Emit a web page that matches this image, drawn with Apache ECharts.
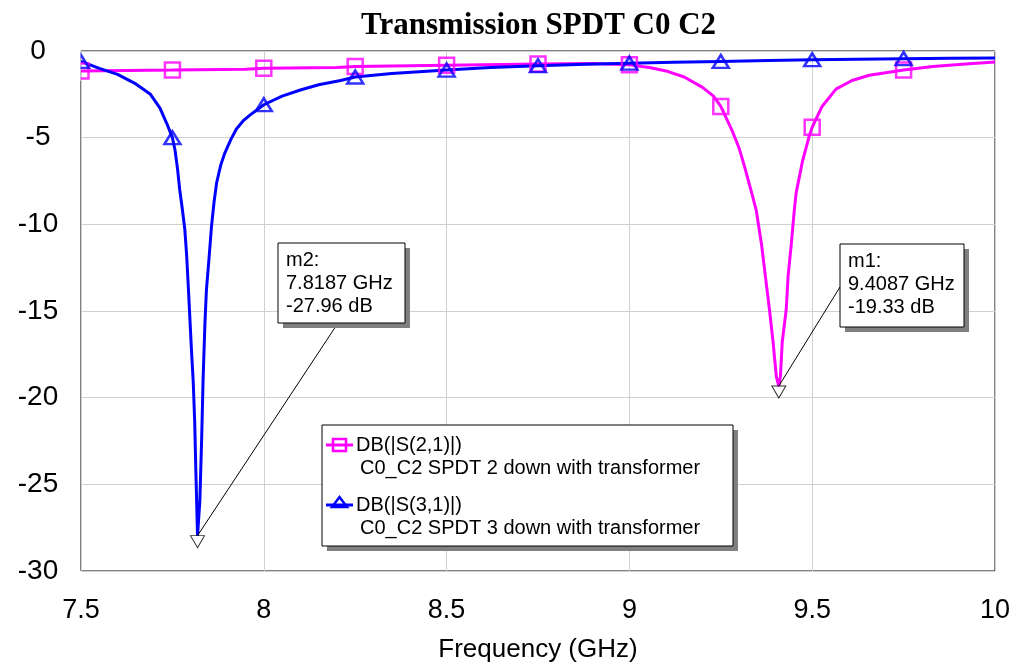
<!DOCTYPE html>
<html>
<head>
<meta charset="utf-8">
<script src="https://cdn.jsdelivr.net/npm/echarts@6/dist/echarts.min.js"></script>
<style>
  html, body { margin: 0; padding: 0; background: #ffffff; }
  #chart { width: 1014px; height: 668px; }
</style>
</head>
<body>
<div id="chart"></div>
<script>
// DB(|S(2,1)|) : C0_C2 SPDT 2 down with transformer
const freqS21 = [7.50, 7.75, 7.95, 8.00, 8.20, 8.25, 8.50, 8.75, 8.90, 9.00, 9.055, 9.10, 9.15, 9.20, 9.23,
  9.25, 9.281, 9.30, 9.314, 9.336, 9.347, 9.361, 9.372, 9.383, 9.393, 9.402, 9.4087, 9.413, 9.418, 9.429,
  9.434, 9.443, 9.451, 9.456, 9.473, 9.492, 9.50, 9.527, 9.565, 9.609, 9.656, 9.75, 9.83, 9.92, 10.0];
const dbS21 = [-1.15, -1.1, -1.05, -1.0, -0.95, -0.9, -0.82, -0.75, -0.72, -0.8, -0.95, -1.15, -1.5, -2.1, -2.6,
  -3.2, -4.6, -5.6, -6.6, -8.3, -9.2, -11.1, -13.0, -14.9, -16.8, -18.8, -19.33, -18.8, -16.8, -14.9,
  -13.0, -11.1, -9.2, -8.2, -6.4, -4.9, -4.4, -3.2, -2.2, -1.7, -1.4, -1.1, -0.9, -0.75, -0.63];

// DB(|S(3,1)|) : C0_C2 SPDT 3 down with transformer
const freqS31 = [7.50, 7.55, 7.60, 7.65, 7.69, 7.716, 7.735, 7.75, 7.757, 7.764, 7.770, 7.777, 7.784, 7.789,
  7.793, 7.798, 7.802, 7.807, 7.811, 7.814, 7.8187, 7.825, 7.830, 7.834, 7.839, 7.843, 7.850, 7.857, 7.864,
  7.871, 7.882, 7.893, 7.91, 7.925, 7.945, 7.962, 8.00, 8.05, 8.10, 8.15, 8.21, 8.25, 8.35, 8.50, 8.62, 8.75,
  8.88, 9.00, 9.12, 9.25, 9.38, 9.50, 9.62, 9.75, 9.88, 10.0];
const dbS31 = [-0.6, -1.0, -1.35, -1.9, -2.5, -3.3, -4.2, -5.0, -5.7, -6.8, -8.0, -9.1, -10.3, -11.8,
  -13.4, -15.5, -17.2, -19.1, -21.4, -24.1, -27.96, -26.0, -22.4, -18.9, -15.7, -13.8, -12.0, -10.1, -8.7,
  -7.6, -6.6, -5.9, -5.1, -4.5, -4.0, -3.7, -3.1, -2.6, -2.25, -1.95, -1.7, -1.5, -1.3, -1.1, -0.95, -0.85,
  -0.77, -0.7, -0.65, -0.6, -0.55, -0.5, -0.47, -0.44, -0.42, -0.4];

// frequencies carrying a trace symbol
const symbolFreqs = [7.5, 7.75, 8.0, 8.25, 8.5, 8.75, 9.0, 9.25, 9.5, 9.75];

// axis ranges / ticks
const xTickValues = [7.5, 8, 8.5, 9, 9.5, 10];
const yTickValues = [-30, -25, -20, -15, -10, -5, 0];

// trace markers
const markerM1 = { name: 'm1', freq: 9.4087, db: -19.33 };
const markerM2 = { name: 'm2', freq: 7.8187, db: -27.96 };

const legendEntries = [
  { title: 'DB(|S(2,1)|)', desc: 'C0_C2 SPDT 2 down with transformer' },
  { title: 'DB(|S(3,1)|)', desc: 'C0_C2 SPDT 3 down with transformer' }
];

const MAGENTA = '#ff00ff';
const BLUE = '#0000ff';
const FONT = '"Liberation Sans", Arial, sans-serif';
const GRID = { left: 81, right: 19, top: 51, bottom: 97 };

function pairs(fs, ds) { return fs.map((f, i) => [f, ds[i]]); }
function pick(fs, ds, keep) {
  return pairs(fs, ds).filter(p => keep.indexOf(p[0]) >= 0);
}

const s21 = pairs(freqS21, dbS21);
const s31 = pairs(freqS31, dbS31);

const chart = echarts.init(document.getElementById('chart'), null, { renderer: 'canvas' });

const option = {
  backgroundColor: '#ffffff',
  animation: false,
  title: {
    text: 'Transmission SPDT C0 C2',
    left: 356,
    top: 5,
    textStyle: { fontFamily: '"Liberation Serif", "Times New Roman", serif', fontWeight: 'bold', fontSize: 31, color: '#000' }
  },
  grid: {
    left: GRID.left, right: GRID.right, top: GRID.top, bottom: GRID.bottom,
    containLabel: false, outerBoundsMode: 'none',
    show: true, borderColor: '#000', borderWidth: 1, backgroundColor: 'transparent'
  },
  xAxis: {
    type: 'value', min: xTickValues[0], max: xTickValues[xTickValues.length - 1], interval: 0.5,
    name: 'Frequency (GHz)', nameLocation: 'middle', nameGap: 66,
    nameTextStyle: { fontFamily: FONT, fontSize: 26, color: '#000' },
    axisLine: { show: false }, axisTick: { show: false },
    axisLabel: { fontFamily: FONT, fontSize: 27, color: '#000', margin: 26 },
    splitLine: { show: true, lineStyle: { color: '#d0d0d0', width: 1 } }
  },
  yAxis: {
    type: 'value', min: yTickValues[0], max: yTickValues[yTickValues.length - 1], interval: 5,
    axisLine: { show: false }, axisTick: { show: false },
    axisLabel: { fontFamily: FONT, fontSize: 28, color: '#000', margin: 43, align: 'center' },
    splitLine: { show: true, lineStyle: { color: '#d0d0d0', width: 1 } }
  },
  series: [
    { name: legendEntries[0].title, type: 'line', data: s21, showSymbol: false, smooth: false,
      lineStyle: { color: MAGENTA, width: 3 }, itemStyle: { color: MAGENTA }, z: 3 },
    { name: legendEntries[1].title, type: 'line', data: s31, showSymbol: false, smooth: false,
      lineStyle: { color: BLUE, width: 3 }, itemStyle: { color: BLUE }, z: 4 },
    { type: 'scatter', data: pick(freqS21, dbS21, symbolFreqs), symbol: 'rect', symbolSize: 15,
      itemStyle: { color: 'rgba(0,0,0,0)', borderColor: MAGENTA, borderWidth: 2.5 }, z: 5 },
    { type: 'scatter', data: pick(freqS31, dbS31, symbolFreqs), symbol: 'triangle', symbolSize: [16, 13],
      itemStyle: { color: 'rgba(0,0,0,0)', borderColor: BLUE, borderWidth: 2.5 }, z: 6 },
    { type: 'scatter', data: [[markerM1.freq, markerM1.db], [markerM2.freq, markerM2.db]],
      symbol: 'triangle', symbolRotate: 180, symbolSize: [14, 12], symbolOffset: [0, 6],
      itemStyle: { color: 'rgba(0,0,0,0)', borderColor: '#000', borderWidth: 1 }, z: 7 }
  ]
};

chart.setOption(option);

// marker readout boxes with leader lines
function markerBox(m, box, anchor) {
  const p = chart.convertToPixel({ gridIndex: 0 }, [m.freq, m.db]);
  return [
    { type: 'line', shape: { x1: p[0], y1: p[1], x2: anchor[0], y2: anchor[1] },
      style: { stroke: '#000', lineWidth: 1 }, z: 20 },
    { type: 'rect', shape: { x: box.x + 5, y: box.y + 5, width: box.w, height: box.h },
      style: { fill: '#808080' }, z: 21 },
    { type: 'rect', shape: { x: box.x, y: box.y, width: box.w, height: box.h },
      style: { fill: '#fff', stroke: '#000', lineWidth: 1 }, z: 22 },
    { type: 'text', x: box.x + 8, y: box.y + 6, z: 23,
      style: { text: m.name + ':\n' + m.freq.toFixed(4) + ' GHz\n' + m.db.toFixed(2) + ' dB',
        font: '20px ' + FONT, fill: '#000', lineHeight: 23 } }
  ];
}

// legend panel
function legendPanel(x, y, w, h) {
  const els = [
    { type: 'rect', shape: { x: x + 5, y: y + 5, width: w, height: h }, style: { fill: '#808080' }, z: 21 },
    { type: 'rect', shape: { x: x, y: y, width: w, height: h }, style: { fill: '#fff', stroke: '#000', lineWidth: 1 }, z: 22 }
  ];
  const rows = [y + 20, y + 80];
  const colors = [MAGENTA, BLUE];
  rows.forEach((ry, i) => {
    els.push({ type: 'line', shape: { x1: x + 4, y1: ry, x2: x + 31, y2: ry }, style: { stroke: colors[i], lineWidth: 3 }, z: 23 });
    if (i === 0) {
      els.push({ type: 'rect', shape: { x: x + 11, y: ry - 6, width: 13, height: 12 },
        style: { fill: 'none', stroke: colors[i], lineWidth: 2.5 }, z: 24 });
    } else {
      els.push({ type: 'polygon', shape: { points: [[x + 17.5, ry - 8], [x + 25, ry + 2], [x + 10, ry + 2]] },
        style: { fill: 'none', stroke: colors[i], lineWidth: 2.5 }, z: 24 });
    }
    els.push({ type: 'text', x: x + 34, y: ry, z: 24,
      style: { text: legendEntries[i].title, font: '20px ' + FONT, fill: '#000', verticalAlign: 'middle' } });
    els.push({ type: 'text', x: x + 38, y: ry + 23, z: 24,
      style: { text: legendEntries[i].desc, font: '20px ' + FONT, fill: '#000', verticalAlign: 'middle' } });
  });
  return els;
}

// keep trace symbols inside the plot frame on the left edge
const edgeMask = [
  { type: 'rect', shape: { x: GRID.left - 12, y: GRID.top - 10, width: 11.5, height: 40 },
    style: { fill: '#ffffff' }, z: 19 }
];

chart.setOption({
  graphic: [].concat(
    edgeMask,
    markerBox(markerM2, { x: 278, y: 243, w: 127, h: 80 }, [338, 323]),
    markerBox(markerM1, { x: 840, y: 244, w: 124, h: 83 }, [840, 287]),
    legendPanel(322, 425, 411, 121)
  )
});
</script>
</body>
</html>
